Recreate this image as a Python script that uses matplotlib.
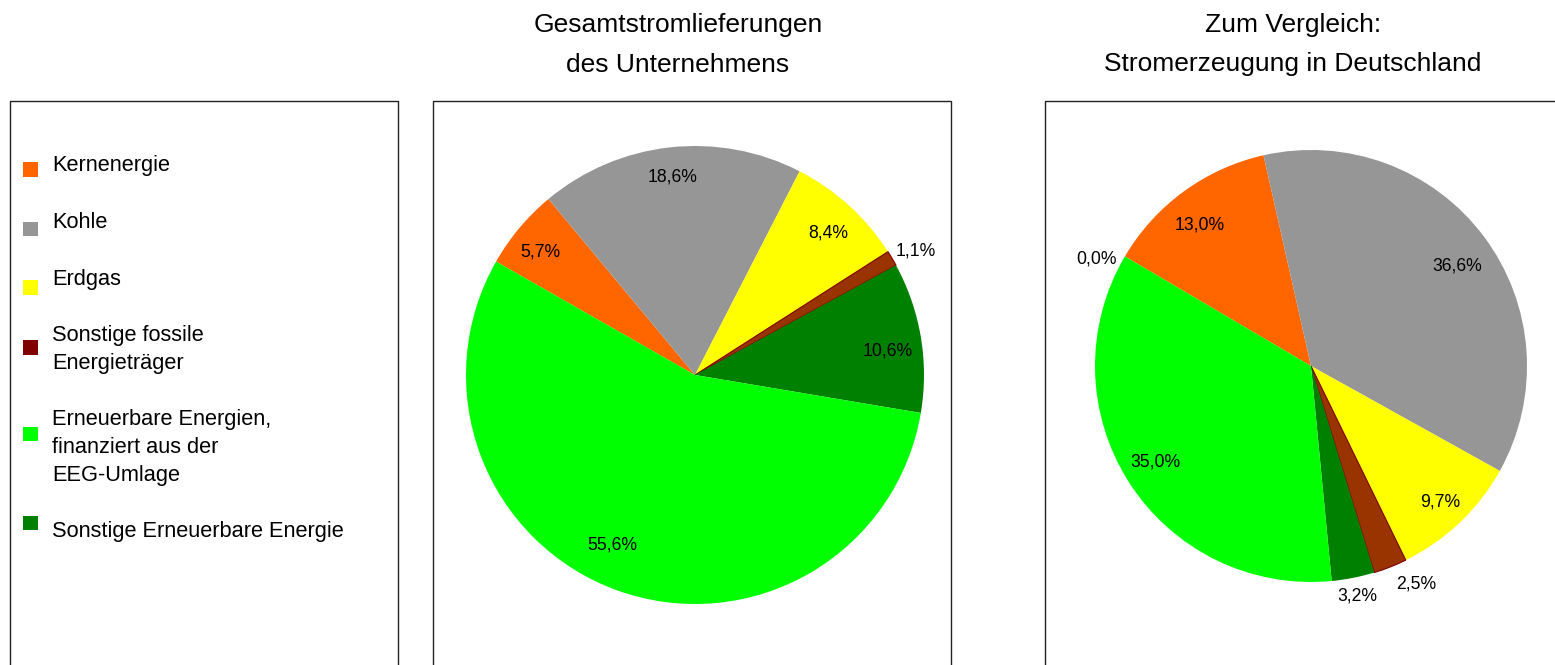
import matplotlib
matplotlib.use("Agg")
import matplotlib.pyplot as plt
from matplotlib.patches import Rectangle
import numpy as np

plt.rcParams['font.family'] = ['Liberation Sans', 'DejaVu Sans']

# ---- data ----
legend_labels = ["Kernenergie", "Kohle", "Erdgas",
                 "Sonstige fossile\nEnergieträger",
                 "Erneuerbare Energien,\nfinanziert aus der\nEEG-Umlage",
                 "Sonstige Erneuerbare Energie"]
legend_colors = ["#FF6600", "#969696", "#FFFF00", "#800000", "#00FF00", "#008000"]

# pie order (clockwise): Kern, Kohle, Erdgas, Sonst. fossil, Sonst. EE, EEG
pie1_values = [5.7, 18.6, 8.4, 1.1, 10.6, 55.6]
pie1_colors = ["#FF6600", "#969696", "#FFFF00", "#993300", "#008000", "#00FF00"]

pie2_values = [0.0, 13.0, 36.6, 9.7, 2.5, 3.2, 35.0]
pie2_colors = ["#FFFFFF", "#FF6600", "#969696", "#FFFF00", "#993300", "#008000", "#00FF00"]

title1 = ["Gesamtstromlieferungen", "des Unternehmens"]
title2 = ["Zum Vergleich:", "Stromerzeugung in Deutschland"]

# ---- layout ----
W, H = 1555, 665
fig = plt.figure(figsize=(W / 100, H / 100), dpi=100)
bg = fig.add_axes([0, 0, 1, 1])
bg.set_xlim(0, W)
bg.set_ylim(H, 0)
bg.axis('off')

for (x0, x1) in [(10, 398), (433, 951), (1045, 1575)]:
    bg.add_patch(Rectangle((x0, 101), x1 - x0, 700, fill=False,
                           edgecolor='#222222', lw=1.0))

for lines, cx in [(title1, 678), (title2, 1293)]:
    for i, ln in enumerate(lines):
        bg.text(cx, 32 + 39.5 * i, ln, ha='center', va='baseline', fontsize=19)

# legend
marker_y = [169.5, 229, 287.5, 347.5, 434, 523]
text_y = [171.5, 228.5, 285, 340.5, 425, 536.5]
for lab, col, my, ty in zip(legend_labels, legend_colors, marker_y, text_y):
    bg.add_patch(Rectangle((23, my - 7.3), 14.6, 14.6, facecolor=col, edgecolor='none'))
    for j, ln in enumerate(lab.split("\n")):
        bg.text(52, ty + 28 * j, ln, ha='left', va='baseline', fontsize=15.7)


def fmt(p):
    return ("%.1f%%" % p).replace(".", ",")


def draw_pie(values, colors, cx, cy, r, start, dists, angle_shift):
    ax = fig.add_axes([(cx - r) / W, (H - cy - r) / H, 2 * r / W, 2 * r / H])
    wedges, _ = ax.pie(values, colors=colors, startangle=start, counterclock=False,
                       radius=1, wedgeprops=dict(linewidth=0))
    for w, c in zip(wedges, colors):
        if c == "#993300":
            w.set_edgecolor("#800000")
            w.set_linewidth(0.8)
    total = sum(values)
    for w, v, d, s in zip(wedges, values, dists, angle_shift):
        th = np.deg2rad((w.theta1 + w.theta2) / 2 + s)
        ax.text(d * np.cos(th), d * np.sin(th), fmt(100 * v / total),
                ha='center', va='center', fontsize=12.7)
    ax.set_xlim(-1, 1)
    ax.set_ylim(-1, 1)
    ax.axis('off')
    return ax


draw_pie(pie1_values, pie1_colors, 695, 375, 229, 150.3,
         [0.862, 0.872, 0.85, 1.107, 0.847, 0.826],
         [1.5, 0.2, -0.8, -1.3, -2.5, -6.3])
draw_pie(pie2_values, pie2_colors, 1311, 366, 216, 149.5,
         [1.11, 0.832, 0.818, 0.868, 1.12, 1.086, 0.848],
         [4.1, 2.2, -2.5, 0.2, 4.2, 0.0, -0.9])

fig.savefig("out.png", dpi=100)
